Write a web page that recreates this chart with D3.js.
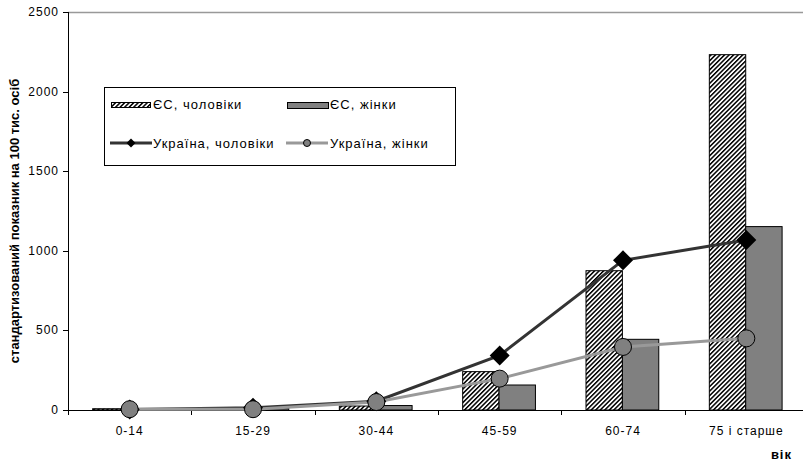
<!DOCTYPE html>
<html><head><meta charset="utf-8">
<script src="https://cdn.jsdelivr.net/npm/d3@7"></script>
<style>body{margin:0;background:#fff}svg{display:block;font-family:"Liberation Sans",Arial,sans-serif}</style>
</head><body>
<svg id="c" width="803" height="464"></svg>
<script>
const categories = ["0-14","15-29","30-44","45-59","60-74","75 і старше"];
const euMen = [8, 4, 25, 241, 875, 2232];
const euWomen = [5, 10, 28, 157, 444, 1152];
const uaMen = [3, 14, 55, 343, 940, 1068];
const uaWomen = [5, 5, 50, 197, 396, 450];
const yTicks = [0, 500, 1000, 1500, 2000, 2500];
const seriesNames = ["ЄС, чоловіки","ЄС, жінки","Україна, чоловіки","Україна, жінки"];

(function(){
const svg = d3.select("#c");
const pl = 68, pr = 808, pt = 12, pb = 410;
const x = d3.scaleBand().domain(categories).range([pl, pr]).padding(0);
const y = d3.scaleLinear().domain([0, 2500]).range([pb, pt]);
const bw = x.bandwidth();
const xs = d3.scaleBand().domain(["m","f"]).range([bw*0.2, bw*0.79]);

const defs = svg.append("defs");
const pat = defs.append("pattern").attr("id","hatch").attr("patternUnits","userSpaceOnUse")
  .attr("width",3.2).attr("height",3.2).attr("patternTransform","rotate(45)");
pat.append("rect").attr("width",3.2).attr("height",3.2).attr("fill","#fff");
pat.append("rect").attr("width",1.5).attr("height",3.2).attr("fill","#000");

svg.append("line").attr("x1",pl).attr("x2",803).attr("y1",pt+0.5).attr("y2",pt+0.5)
  .attr("stroke","#999").attr("stroke-width",1.5);

const g = svg.append("g");
g.selectAll("rect.m").data(euMen).join("rect").attr("class","m")
  .attr("x",(d,i)=>x(categories[i])+xs("m")).attr("width",xs.bandwidth())
  .attr("y",d=>y(d)).attr("height",d=>y(0)-y(d))
  .attr("fill","url(#hatch)").attr("stroke","#000").attr("stroke-width",1);
g.selectAll("rect.f").data(euWomen).join("rect").attr("class","f")
  .attr("x",(d,i)=>x(categories[i])+xs("f")).attr("width",xs.bandwidth())
  .attr("y",d=>y(d)).attr("height",d=>y(0)-y(d))
  .attr("fill","#808080").attr("stroke","#000").attr("stroke-width",1);

const xAxis = svg.append("g").attr("transform",`translate(0,${pb})`);
xAxis.append("line").attr("x1",pl).attr("x2",803).attr("y1",0.5).attr("y2",0.5).attr("stroke","#000");
xAxis.selectAll("line.t").data(categories.concat(["end"])).join("line").attr("class","t")
  .attr("x1",(d,i)=>Math.round(pl+i*bw)+0.5).attr("x2",(d,i)=>Math.round(pl+i*bw)+0.5)
  .attr("y1",0).attr("y2",5).attr("stroke","#000");
xAxis.selectAll("text").data(categories).join("text")
  .attr("x",d=>x(d)+bw/2).attr("y",25).attr("text-anchor","middle")
  .attr("font-size",12).attr("letter-spacing",1).attr("fill","#000").text(d=>d);

const yAxis = svg.append("g");
yAxis.append("line").attr("x1",pl+0.5).attr("x2",pl+0.5).attr("y1",pt).attr("y2",pb+4).attr("stroke","#000");
yAxis.selectAll("line.t").data(yTicks).join("line").attr("class","t")
  .attr("x1",pl-5).attr("x2",pl).attr("y1",d=>Math.round(y(d))+0.5).attr("y2",d=>Math.round(y(d))+0.5).attr("stroke","#000");
yAxis.selectAll("text").data(yTicks).join("text")
  .attr("x",59).attr("y",d=>y(d)+4).attr("text-anchor","end")
  .attr("font-size",12).attr("letter-spacing",1).attr("fill","#000").text(d=>d);

svg.append("text").attr("transform","translate(16,221) rotate(-90)")
  .attr("text-anchor","middle").attr("dominant-baseline","middle")
  .attr("font-size",13).attr("font-weight","bold").text("стандартизований показник на 100 тис. осіб");
svg.append("text").attr("x",792).attr("y",459).attr("text-anchor","end")
  .attr("font-size",13).attr("letter-spacing",1).attr("font-weight","bold").text("вік");

const cx = (i)=>x(categories[i])+bw/2;
const line = d3.line().x((d,i)=>cx(i)).y(d=>y(d));
svg.append("path").datum(uaMen).attr("d",line).attr("fill","none").attr("stroke","#333").attr("stroke-width",3);
svg.append("path").datum(uaWomen).attr("d",line).attr("fill","none").attr("stroke","#999").attr("stroke-width",3);
const dia = (s)=>`M0,${-s}L${s},0L0,${s}L${-s},0Z`;
svg.selectAll("path.dm").data(uaMen).join("path").attr("class","dm")
  .attr("transform",(d,i)=>`translate(${cx(i)},${y(d)})`).attr("d",dia(10)).attr("fill","#000");
svg.selectAll("circle.cw").data(uaWomen).join("circle").attr("class","cw")
  .attr("cx",(d,i)=>cx(i)).attr("cy",d=>y(d)).attr("r",8.5)
  .attr("fill","#808080").attr("stroke","#000").attr("stroke-width",1);

const lg = svg.append("g");
lg.append("rect").attr("x",104.5).attr("y",87.5).attr("width",351).attr("height",78)
  .attr("fill","#fff").attr("stroke","#000");
lg.append("rect").attr("x",111.5).attr("y",102.5).attr("width",39).attr("height",5)
  .attr("fill","url(#hatch)").attr("stroke","#000");
lg.append("rect").attr("x",287.5).attr("y",102.5).attr("width",41).attr("height",6)
  .attr("fill","#808080").attr("stroke","#000");
lg.append("line").attr("x1",110).attr("x2",152).attr("y1",143).attr("y2",143).attr("stroke","#333").attr("stroke-width",3);
lg.append("path").attr("transform","translate(131,143)").attr("d",dia(4.5)).attr("fill","#000");
lg.append("line").attr("x1",286).attr("x2",328).attr("y1",143).attr("y2",143).attr("stroke","#999").attr("stroke-width",3);
lg.append("circle").attr("cx",307).attr("cy",143).attr("r",3.5).attr("fill","#808080").attr("stroke","#000");
const lt = [[153,109,0],[330,109,1],[153,148,2],[330,148,3]];
lg.selectAll("text").data(lt).join("text").attr("x",d=>d[0]).attr("y",d=>d[1])
  .attr("font-size",13).attr("letter-spacing",1).attr("fill","#000").text(d=>seriesNames[d[2]]);
})();
</script>
</body></html>
